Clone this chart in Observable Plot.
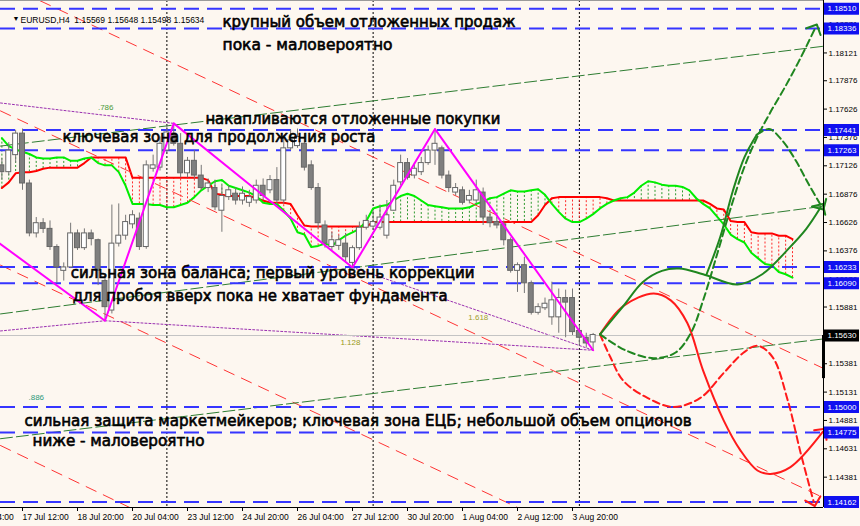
<!DOCTYPE html>
<html>
<head>
<meta charset="utf-8">
<script src="https://cdn.jsdelivr.net/npm/d3@7"></script>
<script src="https://cdn.jsdelivr.net/npm/@observablehq/plot@0.6"></script>
<style>
html, body { margin: 0; padding: 0; background: #fdf7f0; }
#chart svg { display: block; }
</style>
</head>
<body>
<div id="chart"></div>
<script>
// EURUSD H4 candles; bar 0 = 17 Jul 12:00, weekend bars skipped
const firstBar = -3;
const open = [1.1713,1.1707,1.1722,1.1741,1.1697,1.1653,1.1662,1.1657,1.1641,1.1620,
  1.1623,1.1653,1.1640,1.1653,1.1647,1.1611,1.1585,1.1644,1.1651,1.1661,
  1.1666,1.1641,1.1710,1.1711,1.1726,1.1741,1.1732,1.1706,1.1717,1.1704,
  1.1693,1.1693,1.1673,1.1685,1.1688,1.1682,1.1680,1.1682,1.1695,1.1691,
  1.1700,1.1682,1.1728,1.1730,1.1732,1.1713,1.1693,1.1660,1.1641,1.1642,
  1.1644,1.1627,1.1640,1.1658,1.1659,1.1658,1.1651,1.1673,1.1698,1.1715,
  1.1704,1.1707,1.1715,1.1726,1.1728,1.1704,1.1689,1.1691,1.1682,1.1682,
  1.1689,1.1667,1.1663,1.1661,1.1647,1.1620,1.1625,1.1609,1.1583,1.1587,
  1.1579,1.1579,1.1596,1.1596,1.1567,1.1561,1.15569];
const high = [1.1719,1.1733,1.1744,1.1745,1.1700,1.1667,1.1666,1.1664,1.1643,1.1627,
  1.1662,1.1656,1.1657,1.1656,1.1648,1.1616,1.1678,1.1679,1.1669,1.1673,
  1.1671,1.1717,1.1722,1.1738,1.1748,1.1750,1.1741,1.1720,1.1726,1.1713,
  1.1701,1.1700,1.1695,1.1695,1.1693,1.1694,1.1691,1.1700,1.1701,1.1704,
  1.1711,1.1739,1.1744,1.1745,1.1741,1.1717,1.1697,1.1664,1.1654,1.1651,
  1.1653,1.1642,1.1663,1.1669,1.1673,1.1678,1.1682,1.1700,1.1722,1.1719,
  1.1715,1.1720,1.1730,1.1745,1.1730,1.1708,1.1697,1.1694,1.1691,1.1700,
  1.1693,1.1671,1.1666,1.1664,1.1649,1.1627,1.1632,1.1611,1.1591,1.1596,
  1.1610,1.1604,1.1603,1.1604,1.1572,1.1565,1.15648];
const low = [1.1700,1.1704,1.1715,1.1691,1.1650,1.1649,1.1653,1.1638,1.1609,1.1611,
  1.1622,1.1638,1.1638,1.1642,1.1607,1.1576,1.1582,1.1641,1.1647,1.1657,
  1.1638,1.1639,1.1707,1.1708,1.1724,1.1730,1.1702,1.1702,1.1701,1.1691,
  1.1689,1.1673,1.1654,1.1682,1.1678,1.1678,1.1676,1.1679,1.1682,1.1688,
  1.1678,1.1679,1.1726,1.1728,1.1708,1.1691,1.1657,1.1640,1.1638,1.1638,
  1.1627,1.1623,1.1638,1.1656,1.1656,1.1656,1.1648,1.1673,1.1695,1.1700,
  1.1701,1.1704,1.1713,1.1713,1.1701,1.1689,1.1686,1.1678,1.1679,1.1679,
  1.1660,1.1658,1.1657,1.1642,1.1618,1.1601,1.1600,1.1581,1.1581,1.1585,
  1.1572,1.1565,1.1561,1.1563,1.1554,1.1552,1.15498];
const close = [1.1707,1.1726,1.1741,1.1697,1.1653,1.1662,1.1657,1.1641,1.1623,1.1623,
  1.1653,1.1640,1.1653,1.1648,1.1620,1.1588,1.1644,1.1651,1.1663,1.1669,
  1.1641,1.1713,1.1713,1.1732,1.1742,1.1732,1.1706,1.1717,1.1704,1.1693,
  1.1697,1.1676,1.1686,1.1691,1.1682,1.1688,1.1685,1.1695,1.1686,1.1700,
  1.1682,1.1728,1.1735,1.1738,1.1711,1.1693,1.1662,1.1644,1.1647,1.1647,
  1.1632,1.1640,1.1658,1.1664,1.1663,1.1667,1.1669,1.1695,1.1715,1.1702,
  1.1710,1.1715,1.1726,1.1732,1.1704,1.1693,1.1693,1.1680,1.1686,1.1691,
  1.1667,1.1662,1.1660,1.1647,1.1620,1.1625,1.1609,1.1583,1.1588,1.1591,
  1.1594,1.1596,1.1592,1.1566,1.1561,1.1556,1.15634];
const bid = 1.15630;

// Ichimoku Senkou Span A / B, shifted forward, starting at firstBar
const spanA = [1.1737,1.1730,1.1727,1.1725,1.1723,1.1720,1.1719,1.1719,1.1720,1.1720,
  1.1717,1.1717,1.1719,1.1720,1.1715,1.1713,1.1713,1.1707,1.1695,1.1679,
  1.1679,1.1679,1.1678,1.1678,1.1676,1.1676,1.1678,1.1680,1.1685,1.1691,
  1.1695,1.1699,1.1700,1.1695,1.1693,1.1691,1.1689,1.1686,1.1680,1.1679,
  1.1679,1.1673,1.1666,1.1654,1.1652,1.1641,1.1642,1.1644,1.1642,1.1647,
  1.1651,1.1654,1.1657,1.1664,1.1675,1.1677,1.1678,1.1682,1.1686,1.1688,
  1.1686,1.1682,1.1678,1.1677,1.1676,1.1675,1.1675,1.1675,1.1676,1.1679,
  1.1681,1.1684,1.1685,1.1688,1.1691,1.1690,1.1690,1.1691,1.1692,1.1687,
  1.1679,1.1672,1.1666,1.1663,1.1663,1.1666,1.1670,1.1675,1.1679,1.1682,
  1.1684,1.1685,1.1689,1.1695,1.1699,1.1698,1.1696,1.1695,1.1695,1.1694,
  1.1691,1.1684,1.1679,1.1675,1.1668,1.1661,1.1652,1.1648,1.1645,1.1636,
  1.1631,1.1626,1.1625,1.1619,1.1617,1.1614];
const spanB = [1.1693,1.1698,1.1706,1.1707,1.1707,1.1708,1.1710,1.1711,1.1711,1.1711,
  1.1711,1.1711,1.1715,1.1720,1.1720,1.1720,1.1720,1.1720,1.1720,1.1702,
  1.1702,1.1702,1.1702,1.1702,1.1702,1.1702,1.1702,1.1702,1.1702,1.1702,
  1.1700,1.1688,1.1687,1.1686,1.1686,1.1686,1.1686,1.1684,1.1682,1.1680,
  1.1680,1.1680,1.1679,1.1669,1.1660,1.1659,1.1659,1.1659,1.1659,1.1659,
  1.1659,1.1659,1.1659,1.1659,1.1663,1.1663,1.1663,1.1663,1.1663,1.1663,
  1.1663,1.1663,1.1663,1.1663,1.1663,1.1663,1.1663,1.1663,1.1663,1.1663,
  1.1663,1.1663,1.1663,1.1663,1.1663,1.1663,1.1663,1.1663,1.1669,1.1678,
  1.1684,1.1685,1.1685,1.1685,1.1685,1.1685,1.1685,1.1685,1.1684,1.1682,
  1.1682,1.1682,1.1682,1.1682,1.1682,1.1682,1.1682,1.1682,1.1682,1.1682,
  1.1682,1.1682,1.1682,1.1679,1.1675,1.1674,1.1664,1.1663,1.1663,1.1654,
  1.1653,1.1653,1.1653,1.1651,1.1651,1.1648];

// Time axis
const xTickBars = [-8, 0, 8, 16, 24, 32, 40, 48, 56, 64, 72, 80];
const xTickLabels = ["16 Jul 04:00","17 Jul 12:00","18 Jul 20:00","20 Jul 04:00","23 Jul 12:00","24 Jul 20:00",
  "26 Jul 04:00","27 Jul 12:00","30 Jul 20:00","1 Aug 04:00","2 Aug 12:00","3 Aug 20:00"];
const weekStartBars = [21, 51, 81];

// Price axis
const yTickValues = [1.18371,1.18121,1.17876,1.17626,1.17376,1.17126,1.16876,1.16626,1.16376,
  1.16126,1.15881,1.15381,1.15131,1.14881,1.14631,1.14381,1.14130];
const levels = [1.18510, 1.18336, 1.17441, 1.17263, 1.16233, 1.16090, 1.15000, 1.14775, 1.14162];

// ZigZag swing points
const zigzagBars = [-6, 12, 22, 48, 60, 83];
const zigzagPrices = [1.1656, 1.1576, 1.1750, 1.1623, 1.1745, 1.1550];

// Trend channels (pairs of [bar, price])
const redChannels = [
  [[2.6, 1.1858], [116.5, 1.1534]],
  [[-3.2, 1.1761], [116.5, 1.1420]],
  [[-3.2, 1.1625], [116.5, 1.1285]],
  [[-3.2, 1.1466], [116.5, 1.1118]]
];
const greenChannels = [
  [[-3.2, 1.1730], [116.5, 1.1818]],
  [[-3.2, 1.1582], [116.5, 1.1677]],
  [[-3.2, 1.1472], [116.5, 1.1560]]
];
const fibLines = [
  [[-3.2, 1.1768], [22, 1.1750]],
  [[-3.2, 1.1567], [12, 1.1576]],
  [[12, 1.1576], [83, 1.1550]],
  [[48, 1.1623], [83, 1.1550]]
];
const fibLabels = [".786", ".886", "1.128", "1.618"];

// Scenario paths [bar, price]
const greenSolidPath = [[84,1.1564],[87.4,1.1589],[90.2,1.1610],[93,1.1620],[95.5,1.1622],[99,1.1617],
  [104,1.1608],[107.6,1.1617],[111.5,1.1640],[114,1.1657],[116.1,1.1676]];
const greenDashPath = [[84,1.1564],[87.7,1.1550],[91.8,1.1543],[95,1.1548],[97.2,1.1565],[99,1.1594],
  [101.1,1.1636],[103,1.1675],[104.9,1.1710],[106.8,1.1737],[108.8,1.1760],[111,1.1783],[113.2,1.1808],[115.3,1.1834]];
const greenRisePath = [[99.5,1.1617],[101.5,1.1650],[103.3,1.1690],[105,1.1720],[106.8,1.1740]];
const greenFallPath = [[106.8,1.1740],[108.6,1.1745],[110.5,1.1735],[112.5,1.1717],[114.3,1.1697],[116.2,1.1677]];
const redSolidPath = [[84,1.1564],[87.4,1.1589],[91.8,1.1600],[94.3,1.1594],[96.7,1.1574],[99,1.1532],
  [102,1.1488],[104.4,1.1462],[106.9,1.1444],[108.8,1.1441],[111.7,1.1447],[116.4,1.1478]];
const redDashPath = [[84,1.1564],[85.5,1.1544],[87.4,1.1523],[90.9,1.1508],[94.7,1.1500],[98.6,1.1508],
  [102,1.1530],[104.9,1.1548],[106.9,1.1554],[109.1,1.1544],[111.3,1.1506],[113.2,1.1459],[115.1,1.1416]];

// Annotations
const notes = [
  "крупный объем отложенных продаж",
  "пока - маловероятно",
  "накапливаются отложенные покупки",
  "ключевая зона для продолжения роста",
  "сильная зона баланса; первый уровень коррекции",
  "для пробоя вверх пока не хватает фундамента",
  "сильная защита маркетмейкеров; ключевая зона ЕЦБ; небольшой объем опционов",
  "ниже - маловероятно"
];

// ---- derived tables ----
const candles = open.map((o, k) => ({bar: firstBar + k, open: o, high: high[k], low: low[k], close: close[k]}));
const cloud = spanA.map((a, k) => ({bar: firstBar + k, a, b: spanB[k]}));
const tickLabel = new Map(xTickBars.map((b, k) => [b, xTickLabels[k]]));
const zigzag = zigzagBars.map((b, k) => ({bar: b, price: zigzagPrices[k]}));
const segs = (list) => list.flatMap((s, id) => s.map(([bar, price]) => ({id, bar, price})));
const last = candles[candles.length - 1];
const header = `EURUSD,H4  ${last.open.toFixed(5)} ${last.high.toFixed(5)} ${last.low.toFixed(5)} ${last.close.toFixed(5)}`;

// layout of annotation text: [bar, price, width px]
const noteLayout = [
  [29.1, 1.18389, 293], [29.1, 1.18186, 170], [26.6, 1.17534, 295], [5.8, 1.17375, 313],
  [7.0, 1.16176, 404], [7.3, 1.15973, 375], [0.3, 1.14871, 667], [1.45, 1.14695, 172]
];
const fibLayout = [[12.1, 1.1764, "#4a9a3a"], [2.0, 1.1508, "#2e9a7a"], [47.7, 1.1557, "#9a9a20"], [66.3, 1.1579, "#a0a030"]];

const P = (d) => d[0], Q = (d) => d[1];
const blue = "#3535ff";
const dkgreen = "#1f861f";

const chart = Plot.plot({
  width: 860,
  height: 526,
  marginTop: 0,
  marginBottom: 19,
  marginLeft: 0,
  marginRight: 37,
  x: {domain: [-3.2, 116.509], axis: null},
  y: {domain: [1.141136, 1.185834], axis: null},
  style: {background: "#fdf7f0", fontFamily: "Liberation Sans, Arial, sans-serif", fontSize: "8px", overflow: "visible"},
  marks: [
    // period separators
    Plot.ruleX(weekStartBars, {stroke: "#000", strokeDasharray: "2,2", strokeWidth: 1}),
    // Ichimoku cloud hatching
    Plot.ruleX(cloud.filter(d => d.a >= d.b), {x: "bar", y1: "a", y2: "b", stroke: "#2f9a2f", strokeDasharray: "2,2"}),
    Plot.ruleX(cloud.filter(d => d.a < d.b), {x: "bar", y1: "a", y2: "b", stroke: "#ff2a2a", strokeDasharray: "2,2"}),
    Plot.line(cloud, {x: "bar", y: "b", stroke: "#ff0000", strokeWidth: 2}),
    Plot.line(cloud, {x: "bar", y: "a", stroke: "#00ee00", strokeWidth: 2}),
    // channels and fib lines
    Plot.line(segs(redChannels), {x: "bar", y: "price", z: "id", stroke: "#ff3434", strokeWidth: 1, strokeDasharray: "11,8", clip: true}),
    Plot.line(segs(greenChannels), {x: "bar", y: "price", z: "id", stroke: "#2e7d32", strokeWidth: 1, strokeDasharray: "12,4", clip: true}),
    Plot.line(segs(fibLines), {x: "bar", y: "price", z: "id", stroke: "#9a30b0", strokeWidth: 1, strokeDasharray: "2,2", clip: true}),
    // horizontal levels
    Plot.ruleY(levels, {stroke: blue, strokeWidth: 2, strokeDasharray: "15,8"}),
    Plot.ruleY([bid], {stroke: "#c4c4c4", strokeWidth: 1}),
    // candles
    Plot.ruleX(candles, {x: "bar", y1: "low", y2: "high", stroke: "#777"}),
    Plot.rect(candles.filter(d => d.close >= d.open), {x1: d => d.bar - 0.36, x2: d => d.bar + 0.36, y1: "open", y2: "close", fill: "#fff", stroke: "#666"}),
    Plot.rect(candles.filter(d => d.close < d.open), {x1: d => d.bar - 0.36, x2: d => d.bar + 0.36, y1: "open", y2: "close", fill: "#7f7f7f", stroke: "#666"}),
    // zigzag
    Plot.line(zigzag, {x: "bar", y: "price", stroke: "#ff00ff", strokeWidth: 2, clip: true}),
    // scenarios
    Plot.line(redDashPath, {x: P, y: Q, curve: "catmull-rom", stroke: "#ff1a1a", strokeWidth: 2, strokeDasharray: "7,4", markerEnd: "arrow"}),
    Plot.line(redSolidPath, {x: P, y: Q, curve: "catmull-rom", stroke: "#ff1a1a", strokeWidth: 2, markerEnd: "arrow"}),
    Plot.line(greenDashPath, {x: P, y: Q, curve: "catmull-rom", stroke: dkgreen, strokeWidth: 2, strokeDasharray: "7,4", markerEnd: "arrow"}),
    Plot.line(greenRisePath, {x: P, y: Q, curve: "catmull-rom", stroke: dkgreen, strokeWidth: 2}),
    Plot.line(greenFallPath, {x: P, y: Q, curve: "catmull-rom", stroke: dkgreen, strokeWidth: 2, strokeDasharray: "7,4", markerEnd: "arrow"}),
    Plot.line(greenSolidPath, {x: P, y: Q, curve: "catmull-rom", stroke: dkgreen, strokeWidth: 2, markerEnd: "arrow"}),
    // fib level labels
    Plot.text(fibLabels, {x: (d, k) => fibLayout[k][0], y: (d, k) => fibLayout[k][1], text: d => d, fill: (d, k) => fibLayout[k][2], fontSize: 8}),
    // annotations
    Plot.text(notes, {x: (d, k) => noteLayout[k][0], y: (d, k) => noteLayout[k][1], text: d => d, textAnchor: "start",
      fontFamily: "DejaVu Sans, sans-serif", fontSize: 15, fill: "#000", stroke: "#000", strokeWidth: 0.6}),
    // frame lines
    Plot.ruleX([116.509], {stroke: "#000", y1: 1.141136, y2: 1.185834}),
    Plot.ruleY([1.141136], {stroke: "#000"}),
    Plot.ruleY([1.185834], {stroke: "#9a9a9a"}),
    // axes
    Plot.axisY({anchor: "right", ticks: yTickValues, tickFormat: d => d.toFixed(5), tickSize: 3, tickPadding: 2, label: null, fontSize: 8, stroke: "#000"}),
    Plot.axisX({anchor: "bottom", ticks: xTickBars, tickFormat: d => tickLabel.get(d), tickSize: 4, tickPadding: 2, textAnchor: "start", label: null, fontSize: 8.5, stroke: "#000"}),
    // level tags on price axis
    Plot.ruleY(levels, {insetLeft: 824, insetRight: -36, stroke: "#1010f0", strokeWidth: 12}),
    Plot.text(levels, {y: d => d, text: d => d.toFixed(5), frameAnchor: "right", dx: 4, textAnchor: "start", fill: "#fff", fontSize: 8}),
    Plot.ruleY([bid], {insetLeft: 824, insetRight: -36, stroke: "#000", strokeWidth: 12}),
    Plot.text([bid], {y: d => d, text: d => d.toFixed(5), frameAnchor: "right", dx: 4, textAnchor: "start", fill: "#fff", fontSize: 8}),
    Plot.ruleX([116.509], {y1: bid, y2: 1.1525, stroke: "#000", strokeWidth: 3}),
    // header
    Plot.text(["▼"], {frameAnchor: "top-left", dx: 12, dy: 16, fontSize: 7, fill: "#000"}),
    Plot.text([header], {frameAnchor: "top-left", dx: 20, dy: 16, textAnchor: "start", fontSize: 8.5, fill: "#000"})
  ]
});

// annotation widths and arrowhead size
const widthByNote = new Map(notes.map((t, k) => [t, noteLayout[k][2]]));
d3.select(chart).selectAll("text").each(function () {
  const w = widthByNote.get(this.textContent);
  if (w) { this.setAttribute("textLength", w); this.setAttribute("lengthAdjust", "spacingAndGlyphs"); }
});
d3.select(chart).selectAll("marker")
  .attr("markerWidth", 13).attr("markerHeight", 13).attr("stroke-dasharray", "none")
  .selectAll("path").attr("stroke-width", 0.8).attr("stroke-dasharray", "none");

document.getElementById("chart").append(chart);
</script>
</body>
</html>
